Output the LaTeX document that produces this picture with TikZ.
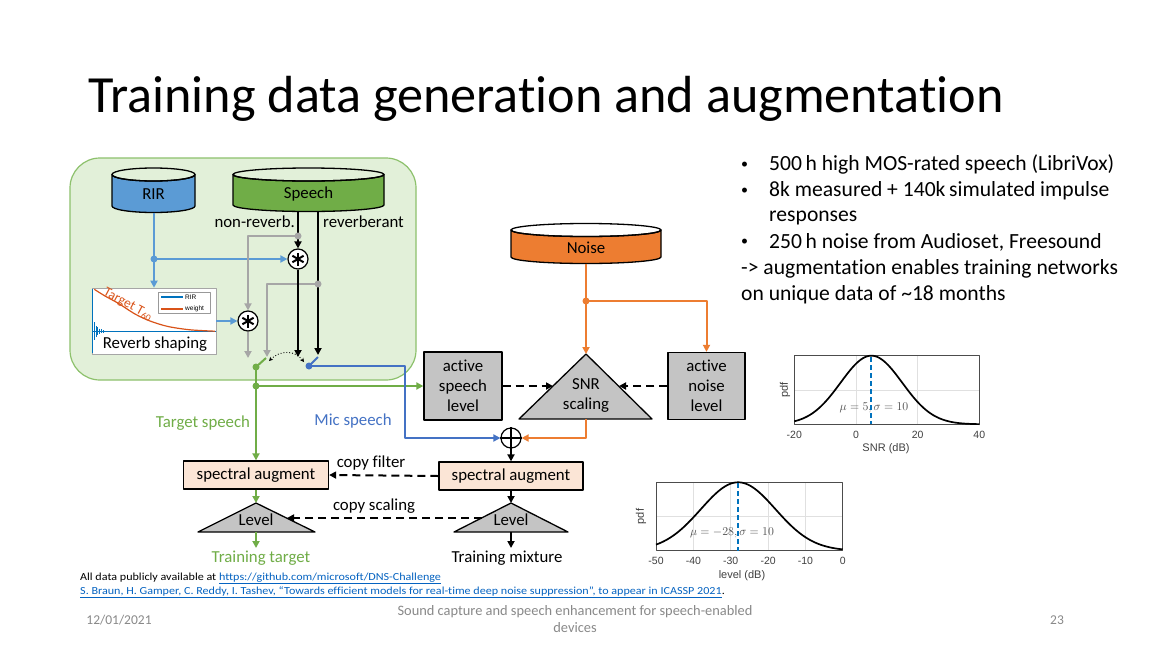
\documentclass[tikz,border=0pt]{standalone}
\usepackage{fontspec}
\setmainfont{Carlito}[Ligatures={NoCommon}]
\newfontfamily\arialf{Liberation Sans}
\usetikzlibrary{arrows.meta}
\definecolor{cblue}{HTML}{5B9BD5}
\definecolor{cdblue}{HTML}{4472C4}
\definecolor{cgreen}{HTML}{70AD47}
\definecolor{corange}{HTML}{ED7D31}
\definecolor{cgray}{HTML}{A6A6A6}
\definecolor{boxgray}{HTML}{C4C4C4}
\definecolor{bggreen}{HTML}{E2F0D9}
\definecolor{bgborder}{HTML}{8DC16C}
\definecolor{salmon}{HTML}{FBE5D6}
\definecolor{mlblue}{HTML}{0072BD}
\definecolor{mlorange}{HTML}{D95319}
\definecolor{linkc}{HTML}{0563C1}
\definecolor{footgray}{HTML}{898989}
\definecolor{gridc}{HTML}{E0E0E0}
\newcommand\dbcyl[7]{%
  \pgfmathsetmacro\cylrx{(#2-#1)/2}%
  \pgfmathsetmacro\cylcx{(#1+#2)/2}%
  \filldraw[fill=#5, draw=black, line width=1.3pt] (#1,#3) -- (#1,#4) arc[start angle=180, end angle=0, x radius=\cylrx, y radius=6.5] -- (#2,#3) arc[start angle=0, end angle=180, x radius=\cylrx, y radius=6.5] -- cycle;
  \draw[line width=1.3pt] (\cylcx,#3) ellipse[x radius=\cylrx, y radius=6.5];
  \node[lbl] (#6) at (\cylcx,{(#3+#4)/2+4}) {#7};
}
\newcommand\smbul{\raisebox{2.5pt}{\fontsize{14}{14}\selectfont\textbullet}}
\begin{document}
\begin{tikzpicture}[x=1pt,y=-1pt, line join=round,
  lbl/.style={font=\fontsize{16.8}{20}\selectfont, inner sep=0pt, align=center},
  arr/.style={-{Triangle[length=7pt,width=7pt]}},
  con/.style={line width=2pt},
  dsh/.style={line width=2pt, dash pattern=on 8pt off 5pt},
  dotc/.style={circle, fill=#1, inner sep=0pt, minimum size=7pt},
  graybox/.style={lbl, draw=black, fill=boxgray, line width=1.3pt},
  specbox/.style={lbl, draw=black, fill=salmon, line width=1.3pt},
  astc/.style={circle, draw=black, fill=white, line width=1.2pt, minimum size=20pt, inner sep=0pt},
  tick/.style={font=\arialf\fontsize{10.5}{12}\selectfont, text=black!75, inner sep=0pt},
  tri/.style={fill=boxgray, draw=black, line width=1.3pt}
]
\useasboundingbox (0,0) rectangle (1150,648);
\fill[white] (0,0) rectangle (1150,648);

% title
\node[anchor=base west, inner sep=0pt, font=\fontsize{52.2}{60}\selectfont] (title) at (88,112) {Training data generation and augmentation};

% bullets
\begin{scope}[every node/.style={anchor=base west, inner sep=0pt, font=\fontsize{21.6}{26}\selectfont}]
\node (b1) at (741,170.5) {\smbul};
\node (t1) at (769,170.5) {500\,h high MOS-rated speech (LibriVox)};
\node (b2) at (741,196.5) {\smbul};
\node (t2) at (769,196.5) {8k measured + 140k\,simulated impulse};
\node (t3) at (769,221.7) {responses};
\node (b4) at (741,248) {\smbul};
\node (t4) at (769,248) {250\,h noise from Audioset, Freesound};
\node (t5) at (741,274.5) {-> augmentation enables training networks};
\node (t6) at (741,300) {on unique data of \char`\~18 months};
\end{scope}

% green background
\draw[fill=bggreen, draw=bgborder, line width=1.2pt, rounded corners=30pt] (70,158) rectangle (416,380);

% cylinders
\dbcyl{112}{195}{174.5}{206}{cblue}{rir}{RIR}
\dbcyl{233}{384}{174.5}{205}{cgreen}{speech}{Speech}
\dbcyl{511}{661}{230}{257}{corange}{noise}{Noise}

\node[lbl, anchor=base east] (nrv) at (295,227) {non-reverb.};
\node[lbl, anchor=base west] (rvb) at (323,227) {reverberant};

% reverb shaping inset
\node[draw=black!35, fill=white, line width=0.6pt, minimum width=124pt, minimum height=66pt, inner sep=0pt] (rev) at (154,321) {};
\draw[mlblue, line width=1.2pt] (92.5,289) -- (92.5,353);
\draw[mlblue, line width=1pt] (93,331) -- (215.5,331);
\draw[mlblue, line width=0.8pt] (94.5,322) -- (94.5,340) (96,326) -- (96,337) (97.5,327) -- (97.5,335) (99,328.5) -- (99,334) (101,329) -- (101,333) (103,330) -- (103,332.5);
\draw[mlorange, line width=1.2pt] plot[smooth] coordinates {(94.3,289.3) (105,296) (118.3,303.3) (135,314) (150,321) (168,326.5) (190,329.8) (215,331.2)};
\node[text=mlorange, rotate=-28, inner sep=0pt, font=\fontsize{13.5}{14}\selectfont] (t60) at (128,304.5) {Target T\textsubscript{60}};
\draw[fill=white, draw=black!40, line width=0.5pt] (158,292) rectangle (210,313.5);
\draw[mlblue, line width=1.2pt] (161,297) -- (183,297);
\draw[mlorange, line width=1.2pt] (161,309) -- (183,309);
\node[anchor=west, inner sep=0pt, font=\arialf\fontsize{6.5}{7}\selectfont] (lg1) at (185,297) {RIR};
\node[anchor=west, inner sep=0pt, font=\arialf\fontsize{6.5}{7}\selectfont] (lg2) at (185,309) {weight};
\node[lbl] (revt) at (155,344) {Reverb shaping};

% convolution nodes
\node[astc] (ast1) at (298,259) {};
\node[astc] (ast2) at (248,321) {};
\foreach \n in {ast1,ast2}{
  \foreach \a in {90,30,150}{
    \draw[line width=2pt] (\n.center) ++(\a:6.5) -- ++(\a+180:13);
  }
}

% coordinates
\coordinate (rirb) at (154,212.5);
\coordinate (dotB) at (154,259);
\coordinate (spL) at (298,211.5);
\coordinate (spR) at (318,211.5);
\coordinate (dotG1) at (298,236);
\coordinate (g1c) at (248,236);
\coordinate (dotG2) at (318,284);
\coordinate (g2c) at (267,284);
\coordinate (gA) at (248,358);
\coordinate (gB) at (267,357);
\coordinate (swLend) at (298,357);
\coordinate (swRend) at (318,355);
\coordinate (swG) at (256,367);
\coordinate (gBlade) at (266,358);
\coordinate (swB) at (309,366);
\coordinate (bBlade) at (318,357);
\coordinate (dotG3) at (256,386);
\coordinate (mic1) at (405,366);
\coordinate (mic2) at (405,438);

% RIR connectors
\draw[con, cblue, arr] (rirb) -- (rev.north);
\draw[con, cblue, arr] (dotB) -- (ast1.west);
\draw[con, cblue, arr] (rev.east) -- (ast2.west);

% gray connectors
\draw[con, cgray, arr] (dotG1) -- (g1c) -- (ast2.north);
\draw[con, cgray, arr] (ast2.south) -- (gA);
\draw[con, cgray, arr] (dotG2) -- (g2c) -- (gB);

% black speech connectors
\draw[con, arr] (spL) -- (ast1.north);
\draw[con, arr] (ast1.south) -- (swLend);
\draw[con, arr] (spR) -- (swRend);

% switch
\draw[con, cgreen] (swG) -- (gBlade);
\draw[con, cdblue] (swB) -- (bBlade);
\draw[dotted, line width=0.9pt, {Stealth[length=4pt,width=4pt]}-{Stealth[length=4pt,width=4pt]}] (269,361) .. controls (280,350) and (295,350) .. (304,362);

% boxes on right
\node[graybox, minimum width=78pt, minimum height=68pt] (asl) at (463,386) {active\\speech\\level};
\node[graybox, minimum width=77pt, minimum height=67pt] (anl) at (706.5,386) {active\\noise\\level};
\filldraw[tri] (586,354) -- (652,419) -- (519,419) -- cycle;
\coordinate (snrTop) at (586,354);
\coordinate (snrBot) at (586,419);
\coordinate (snrL) at (553,386);
\coordinate (snrR) at (619,386);
\node[lbl] (snrt) at (586,395) {SNR\\scaling};

\node[astc] (plus) at (511,438) {};
\draw[line width=1.2pt] (plus.north) -- (plus.south) (plus.west) -- (plus.east);

\node[specbox, minimum width=145pt, minimum height=28pt] (specL) at (256,475) {spectral augment};
\node[specbox, minimum width=144pt, minimum height=28pt] (specR) at (511,476) {spectral augment};

\filldraw[tri] (256,503) -- (315,532) -- (198,532) -- cycle;
\filldraw[tri] (511,503) -- (568,532) -- (454,532) -- cycle;
\coordinate (lvLtop) at (256,503);
\coordinate (lvLbot) at (256,532);
\coordinate (lvRtop) at (511,503);
\coordinate (lvRbot) at (511,532);
\coordinate (lvLr) at (287,518);
\coordinate (lvRl) at (482,518);
\coordinate (outL) at (256,548);
\coordinate (outR) at (511,548);
\node[lbl] (lvL) at (256,520) {Level};
\node[lbl] (lvR) at (511,520) {Level};

% green connectors
\draw[con, cgreen, arr] (swG) -- (specL.north);
\draw[con, cgreen, arr] (dotG3) -- (asl.west);
\draw[con, cgreen, arr] (specL.south) -- (lvLtop);
\draw[con, cgreen, arr] (lvLbot) -- (outL);

% mic speech
\draw[con, cdblue, arr] (swB) -- (mic1) -- (mic2) -- (plus.west);

% noise connectors
\coordinate (noiseb) at (586,263.5);
\coordinate (dotO) at (586,301);
\coordinate (oc) at (706.5,301);
\coordinate (oc2) at (586,438);
\draw[con, corange, arr] (noiseb) -- (snrTop);
\draw[con, corange, arr] (dotO) -- (oc) -- (anl.north);
\draw[con, corange, arr] (snrBot) -- (oc2) -- (plus.east);

% dashed
\draw[dsh, arr] (asl.east) -- (snrL);
\draw[dsh, arr] (anl.west) -- (snrR);
\draw[dsh, arr] (specR.west) -- (specL.east);
\draw[dsh, arr] (lvRl) -- (lvLr);

% black outputs
\draw[con, arr] (plus.south) -- (specR.north);
\draw[con, arr] (specR.south) -- (lvRtop);
\draw[con, arr] (lvRbot) -- (outR);

% dots
\node[dotc=cblue] (d1) at (dotB) {};
\node[dotc=cgray] (d2) at (dotG1) {};
\node[dotc=cgray] (d3) at (dotG2) {};
\node[dotc=cgreen] (d4) at (swG) {};
\node[dotc=cgreen] (d5) at (dotG3) {};
\node[dotc=cdblue] (d6) at (swB) {};
\node[dotc=corange] (d7) at (dotO) {};

% labels
\node[lbl, text=cgreen] (lts) at (203,423) {Target speech};
\node[lbl, text=cdblue] (lms) at (353,421) {Mic speech};
\node[lbl] (lcf) at (371,463) {copy filter};
\node[lbl] (lcs) at (374,506) {copy scaling};
\node[lbl, text=cgreen] (ltt) at (261,558) {Training target};
\node[lbl] (ltm) at (507,558) {Training mixture};

% SNR plot
\draw[gridc, line width=0.5pt] (856,356) -- (856,424) (917.6,356) -- (917.6,424) (794.3,390) -- (979.3,390);
\draw[black!70, line width=0.6pt] (794.3,355.7) rectangle (979.3,424.3);
\draw[line width=1.7pt] plot[domain=-20:40, samples=90] ({794.3+(\x+20)*185/60}, {424.3-68.6*exp(((\x-5)^2)/(-200))});
\node[inner sep=0pt, font=\fontsize{11.5}{13}\selectfont, text=black!70] (mu1) at (874,408) {$\mu=5, \sigma=10$};
\draw[mlblue, line width=2pt, dash pattern=on 5pt off 3pt] (871.4,357) -- (871.4,424);
\node[tick] (s1) at (794.3,435) {-20};
\node[tick] (s2) at (856,435) {0};
\node[tick] (s3) at (917.6,435) {20};
\node[tick] (s4) at (979.3,435) {40};
\node[tick, font=\arialf\fontsize{11}{12}\selectfont] (s5) at (886,448.5) {SNR (dB)};
\node[tick, rotate=90, font=\arialf\fontsize{11}{12}\selectfont] (s6) at (785,390) {pdf};

% level plot
\draw[gridc, line width=0.5pt] (693.4,482) -- (693.4,551) (730.7,482) -- (730.7,551) (768.1,482) -- (768.1,551) (805.4,482) -- (805.4,551) (656,516.5) -- (842.7,516.5);
\draw[black!70, line width=0.6pt] (656,482.3) rectangle (842.7,550.7);
\draw[line width=1.7pt] plot[domain=-50:0, samples=90] ({656+(\x+50)*186.7/50}, {550.7-68.4*exp(((\x+28)^2)/(-200))});
\node[inner sep=0pt, font=\fontsize{11.5}{13}\selectfont, text=black!70] (mu2) at (732,533) {$\mu=-28, \sigma=10$};
\draw[mlblue, line width=2pt, dash pattern=on 5pt off 3pt] (738.2,483) -- (738.2,550.5);
\node[tick] (l1) at (656,561) {-50};
\node[tick] (l2) at (693.4,561) {-40};
\node[tick] (l3) at (730.7,561) {-30};
\node[tick] (l4) at (768.1,561) {-20};
\node[tick] (l5) at (805.4,561) {-10};
\node[tick] (l6) at (842.7,561) {0};
\node[tick, font=\arialf\fontsize{11}{12}\selectfont] (l7) at (742,576) {level (dB)};
\node[tick, rotate=90, font=\arialf\fontsize{11}{12}\selectfont] (l8) at (641,516.5) {pdf};

% references
\node[anchor=base west, inner sep=0pt, font=\fontsize{10.8}{12}\selectfont] (ref1) at (80,580) {\scalebox{1.12}[1]{All data publicly available at \textcolor{linkc}{\underline{https://github.com/microsoft/DNS-Challenge}}}};
\node[anchor=base west, inner sep=0pt, font=\fontsize{10.8}{12}\selectfont] (ref2) at (80,594.5) {\scalebox{1.12}[1]{\textcolor{linkc}{\underline{S. Braun, H. Gamper, C. Reddy, I. Tashev, “Towards efficient models for real-time deep noise suppression”, to appear in ICASSP 2021}}.}};

% footer
\node[text=footgray, inner sep=0pt, font=\fontsize{13.5}{17}\selectfont] (date) at (119,620) {12/01/2021};
\node[text=footgray, inner sep=0pt, align=center, font=\fontsize{14.4}{17}\selectfont] (foot) at (575,619.5) {Sound capture and speech enhancement for speech-enabled\\devices};
\node[text=footgray, inner sep=0pt, font=\fontsize{13.5}{17}\selectfont] (pg) at (1057,620) {23};
\end{tikzpicture}
\end{document}
